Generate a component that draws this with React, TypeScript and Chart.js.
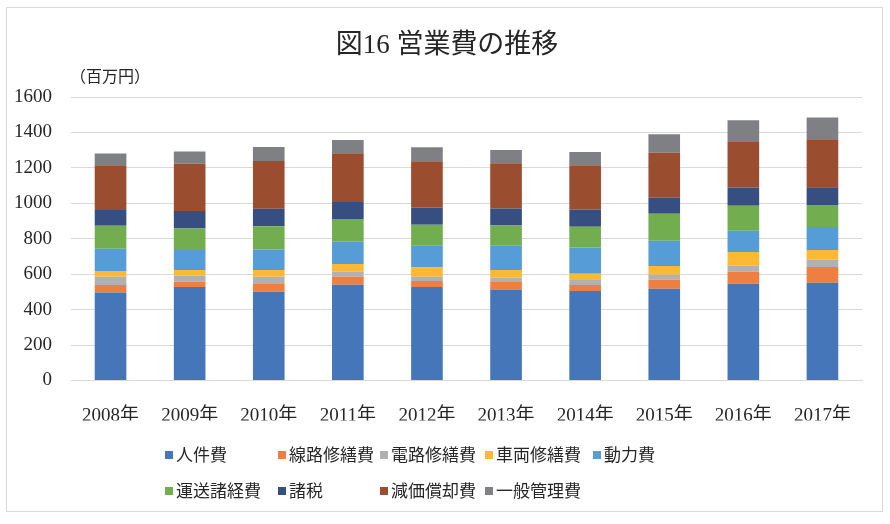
import React, { useEffect, useRef } from "react";
import { Chart, registerables } from "chart.js";

Chart.register(...registerables);

const categories = ["2008年", "2009年", "2010年", "2011年", "2012年", "2013年", "2014年", "2015年", "2016年", "2017年"];

const jinkenhi = [496, 528, 501, 541, 528, 513, 505, 518, 546, 552];
const senro = [43, 30, 44, 45, 34, 43, 34, 51, 68, 88];
const denro = [47, 34, 41, 28, 24, 24, 28, 28, 34, 42];
const sharyo = [32, 31, 37, 43, 52, 43, 36, 49, 77, 54];
const doryoku = [126, 113, 117, 126, 126, 141, 148, 143, 120, 130];
const unso = [129, 122, 131, 128, 115, 111, 117, 152, 141, 124];
const shozei = [89, 98, 98, 96, 98, 96, 97, 90, 103, 101];
const genka = [253, 267, 270, 276, 261, 255, 250, 254, 257, 267];
const ippan = [66, 69, 79, 75, 78, 75, 75, 105, 123, 126];

const seriesNames = ["人件費", "線路修繕費", "電路修繕費", "車両修繕費", "動力費", "運送諸経費", "諸税", "減価償却費", "一般管理費"];
const seriesValues = [jinkenhi, senro, denro, sharyo, doryoku, unso, shozei, genka, ippan];
const seriesColors = ["#4676BA", "#EF7F40", "#B1B1B3", "#FDB932", "#569CD6", "#72AD4F", "#364F80", "#9A4D2F", "#7F8084"];

const yTicks = [0, 200, 400, 600, 800, 1000, 1200, 1400, 1600];
const yTickLabels = ["0", "200", "400", "600", "800", "1000", "1200", "1400", "1600"];

const titleText = "図16 営業費の推移";
const unitText = "（百万円）";

const SERIF = '"Liberation Serif", "Noto Sans CJK JP", serif';
const SANS = '"Noto Sans CJK JP", "Noto Sans", sans-serif';

const legendCols = [165, 278, 380, 485, 593];
const legendRows = [455, 491];

const overlayPlugin = {
  id: "overlay",
  afterDraw(chart: any) {
    const ctx = chart.ctx as CanvasRenderingContext2D;
    ctx.save();
    ctx.fillStyle = "#262626";
    ctx.textBaseline = "middle";
    ctx.textAlign = "center";
    ctx.font = `27px ${SERIF}`;
    ctx.fillText(titleText, 447, 46);
    ctx.textAlign = "left";
    ctx.font = `16px ${SERIF}`;
    ctx.fillText(unitText, 70, 78);

    ctx.font = `17px ${SANS}`;
    chart.data.datasets.forEach((ds: any, i: number) => {
      const col = i % 5;
      const row = Math.floor(i / 5);
      const x = legendCols[col];
      const y = legendRows[row];
      ctx.fillStyle = ds.backgroundColor;
      ctx.fillRect(x, y - 4, 8, 8);
      ctx.fillStyle = "#262626";
      ctx.fillText(ds.label, x + 11, y);
    });
    ctx.restore();
  },
};

export default function App() {
  const ref = useRef<HTMLCanvasElement | null>(null);
  useEffect(() => {
    if (!ref.current) return;
    const chart = new Chart(ref.current, {
      type: "bar",
      data: {
        labels: categories,
        datasets: seriesNames.map((name, i) => ({
          label: name,
          data: seriesValues[i],
          backgroundColor: seriesColors[i],
          borderWidth: 0,
          barPercentage: 0.5,
          categoryPercentage: 0.8,
        })),
      },
      options: {
        responsive: false,
        animation: false,
        devicePixelRatio: 1,
        layout: { padding: { top: 97, left: 0, right: 28, bottom: 103.5 } },
        plugins: {
          legend: { display: false },
          title: { display: false },
          tooltip: { enabled: false },
        },
        scales: {
          x: {
            stacked: true,
            grid: { display: false },
            border: { display: true, color: "#d9d9d9", width: 1 },
            ticks: { color: "#262626", font: { family: SERIF, size: 19 }, padding: 16, maxRotation: 0 },
            afterFit: (s: any) => {
              s.height = 40;
            },
          },
          y: {
            stacked: true,
            min: 0,
            max: 1600,
            afterBuildTicks: (s: any) => {
              s.ticks = yTicks.map((v) => ({ value: v }));
            },
            grid: { color: "#d9d9d9", lineWidth: 1, drawTicks: false },
            border: { display: false },
            ticks: {
              color: "#262626",
              font: { family: SERIF, size: 19 },
              padding: 19,
              callback: (_v: any, idx: number) => yTickLabels[idx],
            },
            afterFit: (s: any) => {
              s.width = 71;
            },
          },
        },
      },
      plugins: [overlayPlugin],
    });
    return () => chart.destroy();
  }, []);
  return (
    <div style={{ position: "absolute", left: 0, top: 0, width: 890, height: 524, background: "#fff" }}>
      <div
        style={{
          position: "absolute",
          left: 6,
          top: 7,
          width: 877,
          height: 505,
          border: "1px solid #d9d9d9",
          boxSizing: "border-box",
          pointerEvents: "none",
        }}
      />
      <canvas ref={ref} width={890} height={524} style={{ position: "absolute", left: 0, top: 0, width: 890, height: 524 }} />
    </div>
  );
}
